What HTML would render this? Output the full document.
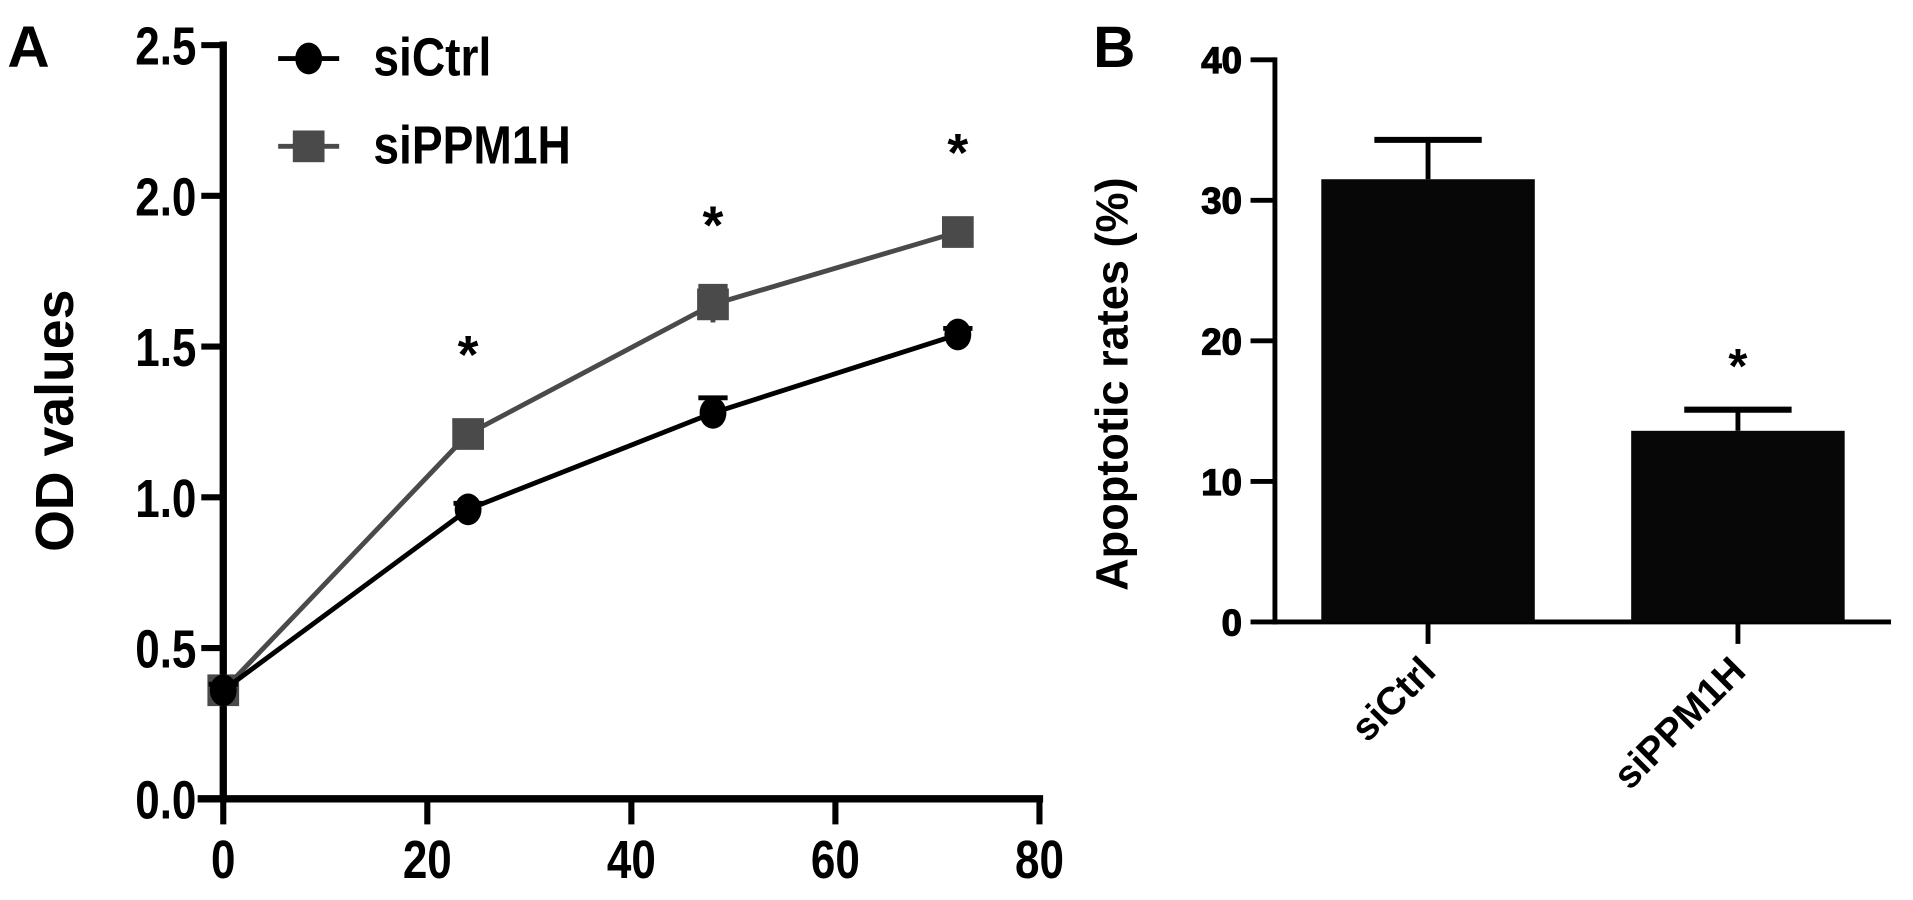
<!DOCTYPE html>
<html><head><meta charset="utf-8">
<style>
html,body{margin:0;padding:0;background:#fff;}
svg{display:block;font-family:"Liberation Sans",Arial,sans-serif;}
</style></head>
<body>
<svg id="svg" width="1913" height="900" viewBox="0 0 1568 738" preserveAspectRatio="none">
<text x="6" y="55" font-size="48" font-weight="bold">A</text>
<text x="896" y="55" font-size="48" font-weight="bold">B</text>
<g id="chartA"></g>
<g id="chartB"></g>
</svg>
<script>
// Panel A data
const timePoints = [0, 24, 48, 72];
const ctrlValues = [0.36, 0.96, 1.28, 1.54];
const ctrlErr = [0.02, 0.02, 0.05, 0.02];
const ppmValues = [0.36, 1.21, 1.64, 1.88];
const ppmErr = [0.03, 0.03, 0.06, 0.03];
const yTicksA = [0.0, 0.5, 1.0, 1.5, 2.0, 2.5];
const yTickLabelsA = ["0.0", "0.5", "1.0", "1.5", "2.0", "2.5"];
const xTicksA = [0, 20, 40, 60, 80];
const starTimes = [24, 48, 72];
// Panel B data
const groups = ["siCtrl", "siPPM1H"];
const rateValues = [31.5, 13.6];
const rateErr = [2.8, 1.5];
const yTicksB = [0, 10, 20, 30, 40];

const NS = "http://www.w3.org/2000/svg";
function mk(parent, tag, attrs, text) {
  const e = document.createElementNS(NS, tag);
  for (const k in attrs) e.setAttribute(k, attrs[k]);
  if (text !== undefined) e.textContent = text;
  parent.appendChild(e);
  return e;
}
// ---- Panel A ----
const A = document.getElementById('chartA');
const xA = v => 183 + (v / 80) * (852 - 183);
const yA = v => 655 - (v / 2.5) * (655 - 37);
let e;
e = mk(A, 'line', {x1: 183, y1: 34, x2: 183, y2: 658, stroke: '#000', 'stroke-width': 6});


e = mk(A, 'line', {x1: 162, y1: 655, x2: 855, y2: 655, stroke: '#000', 'stroke-width': 6});


yTicksA.forEach((t, i) => {
  mk(A, 'line', {x1: 165, y1: yA(t), x2: 183, y2: yA(t), stroke: '#000', 'stroke-width': 5});
  e = mk(A, 'text', {x: 161 / 0.82, y: yA(t) + 16, 'font-size': 44, 'font-weight': 'bold', 'text-anchor': 'end', transform: 'scale(0.82,1)'}, yTickLabelsA[i]);
  
  
});
xTicksA.forEach(t => {
  mk(A, 'line', {x1: xA(t), y1: 655, x2: xA(t), y2: 676, stroke: '#000', 'stroke-width': 5});
  e = mk(A, 'text', {x: xA(t) / 0.82, y: 720, 'font-size': 44, 'font-weight': 'bold', 'text-anchor': 'middle', transform: 'scale(0.82,1)'}, String(t));
  
  
});
e = mk(A, 'text', {x: 0, y: 0, 'font-size': 44, 'font-weight': 'bold', 'text-anchor': 'middle', transform: 'translate(60,345) rotate(-90)'}, 'OD values');


function series(vals, errs, color, shape, name) {
  const g = mk(A, 'g', {});
  
  
  const pts = timePoints.map((t, i) => `${xA(t)},${yA(vals[i])}`).join(' ');
  mk(g, 'polyline', {points: pts, fill: 'none', stroke: color, 'stroke-width': 4});
  timePoints.forEach((t, i) => {
    const cx = xA(t), cy = yA(vals[i]);
    const ty = yA(vals[i] + errs[i]), by = yA(vals[i] - errs[i]);
    mk(g, 'line', {x1: cx, y1: ty, x2: cx, y2: by, stroke: color, 'stroke-width': 4});
    mk(g, 'line', {x1: cx - 12, y1: ty, x2: cx + 12, y2: ty, stroke: color, 'stroke-width': 4});
    let m;
    if (shape === 'circle') m = mk(g, 'ellipse', {cx: cx, cy: cy, rx: 11, ry: 13, fill: color});
    else m = mk(g, 'rect', {x: cx - 13, y: cy - 13, width: 26, height: 26, fill: color});
    
    
  });
}
series(ppmValues, ppmErr, '#4a4a4a', 'square', 'series-sippm1h');
series(ctrlValues, ctrlErr, '#000', 'circle', 'series-sictrl');
starTimes.forEach(t => {
  const i = timePoints.indexOf(t);
  e = mk(A, 'text', {x: xA(t), y: yA(ppmValues[i]) - 50, 'font-size': 44, 'font-weight': 'bold', 'text-anchor': 'middle'}, '*');
  
  
});
// legend
const L = mk(A, 'g', {});


mk(L, 'line', {x1: 228, y1: 48, x2: 278, y2: 48, stroke: '#000', 'stroke-width': 4});
mk(L, 'ellipse', {cx: 253, cy: 48, rx: 11, ry: 13, fill: '#000'});
e = mk(L, 'text', {x: 306 / 0.86, y: 62, 'font-size': 44, 'font-weight': 'bold', transform: 'scale(0.86,1)'}, 'siCtrl');


mk(L, 'line', {x1: 228, y1: 120, x2: 278, y2: 120, stroke: '#4a4a4a', 'stroke-width': 4});
mk(L, 'rect', {x: 240, y: 107, width: 26, height: 26, fill: '#4a4a4a'});
e = mk(L, 'text', {x: 306 / 0.86, y: 134, 'font-size': 44, 'font-weight': 'bold', transform: 'scale(0.86,1)'}, 'siPPM1H');



// ---- Panel B ----
const B = document.getElementById('chartB');
const yB = v => 510 - (v / 40) * (510 - 49);
const barX = [1083, 1337], barW = 175;
e = mk(B, 'line', {x1: 1045, y1: 47, x2: 1045, y2: 512, stroke: '#000', 'stroke-width': 4});


e = mk(B, 'line', {x1: 1043, y1: 510, x2: 1550, y2: 510, stroke: '#000', 'stroke-width': 4});


yTicksB.forEach(t => {
  mk(B, 'line', {x1: 1025, y1: yB(t), x2: 1045, y2: yB(t), stroke: '#000', 'stroke-width': 4});
  e = mk(B, 'text', {x: 1018, y: yB(t) + 11, 'font-size': 30, 'font-weight': 'bold', 'text-anchor': 'end', stroke: '#000', 'stroke-width': 1}, String(t));
  
  
});
e = mk(B, 'text', {x: 0, y: 0, 'font-size': 37, 'font-weight': 'bold', 'text-anchor': 'middle', transform: 'translate(924,315) rotate(-90)'}, 'Apoptotic rates (%)');


groups.forEach((gname, i) => {
  const x = barX[i], cx = x + barW / 2;
  const top = yB(rateValues[i]), et = yB(rateValues[i] + rateErr[i]);
  mk(B, 'line', {x1: cx, y1: top, x2: cx, y2: et, stroke: '#000', 'stroke-width': 4});
  mk(B, 'line', {x1: cx - 44, y1: et, x2: cx + 44, y2: et, stroke: '#000', 'stroke-width': 5});
  e = mk(B, 'rect', {x: x, y: top, width: barW, height: 510 - top, fill: '#070707'});
  
  
  mk(B, 'line', {x1: cx, y1: 510, x2: cx, y2: 528, stroke: '#000', 'stroke-width': 4});
  e = mk(B, 'text', {x: 0, y: 0, 'font-size': 32, 'font-weight': 'bold', 'text-anchor': 'end', transform: `translate(${cx + 8},552) rotate(-45)`}, gname);
  
  
  if (i === 1) {
    e = mk(B, 'text', {x: cx, y: et - 22, 'font-size': 40, 'font-weight': 'bold', 'text-anchor': 'middle'}, '*');
    
    
  }
});
</script>
</body></html>
